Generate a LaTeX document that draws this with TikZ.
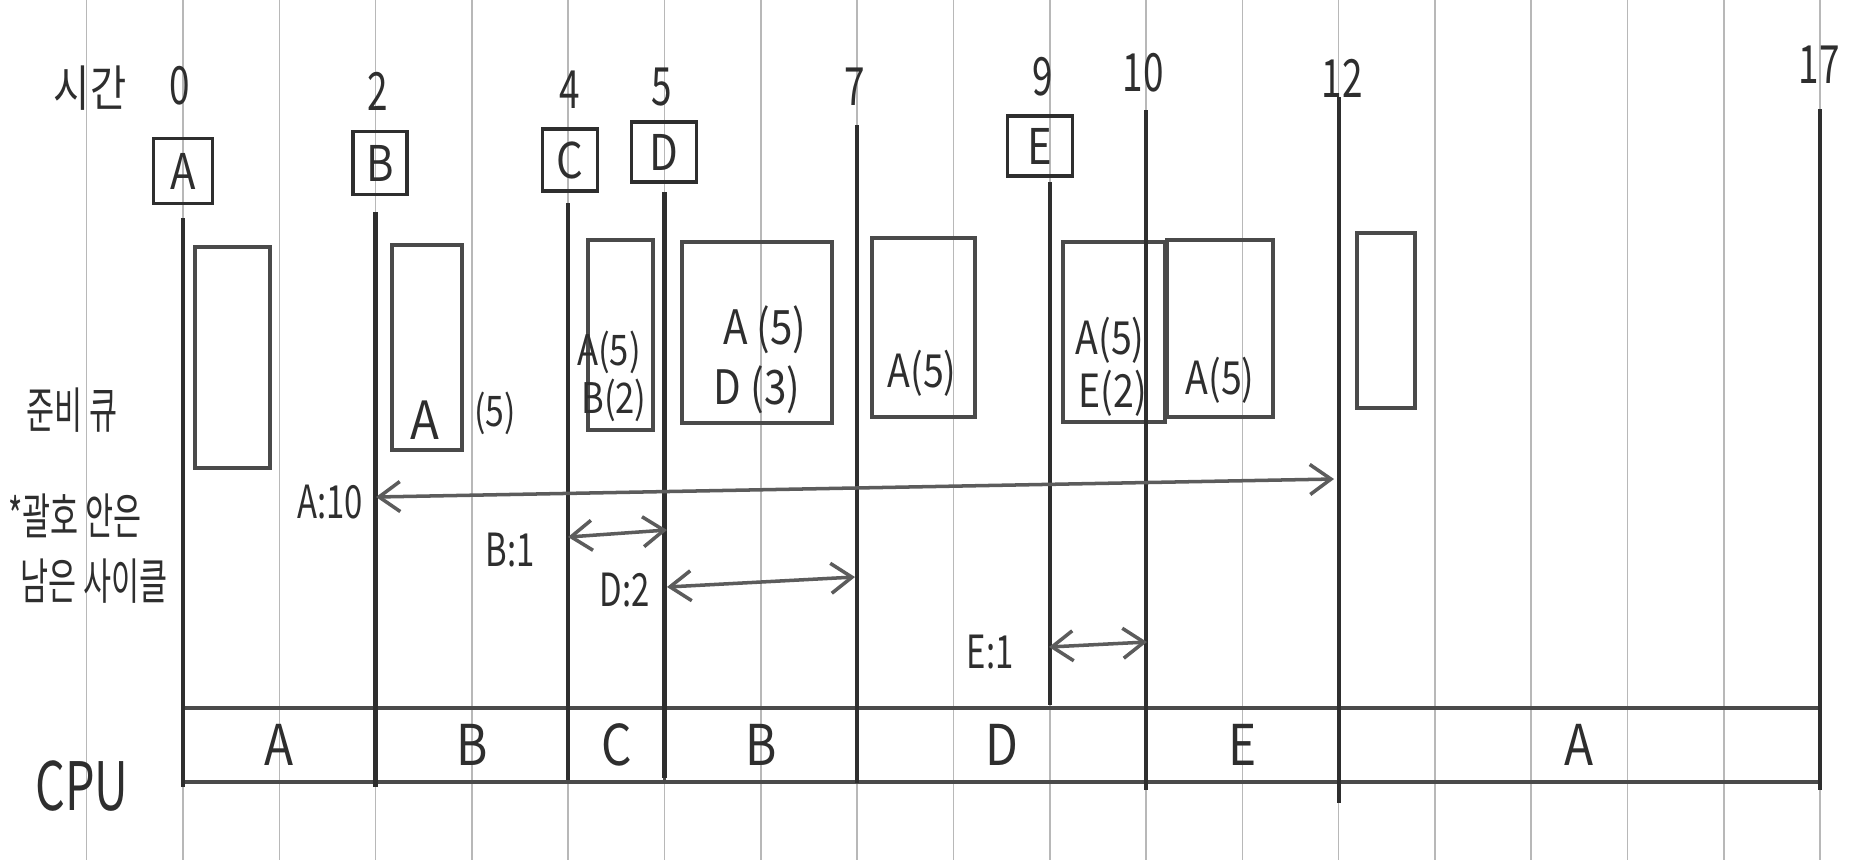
\documentclass[tikz,border=0pt]{standalone}
\usepackage{fontspec}
\setmainfont{Noto Sans CJK KR}
\usepackage{graphicx}
\usetikzlibrary{arrows.meta}
\definecolor{paperc}{HTML}{B8B8B8}
\definecolor{inkc}{HTML}{2E2E2E}
\definecolor{boxc}{HTML}{4A4A4A}
\definecolor{arrc}{HTML}{5C5C5C}
\newcommand{\nar}[2]{\scalebox{#1}[1]{#2}}
\newcommand{\fs}[1]{\fontsize{#1}{#1}\selectfont}
\tikzset{
  paperline/.style={draw=paperc, line width=0.9pt},
  tline/.style={draw=inkc, line width=2.4pt},
  arrbox/.style={draw=inkc, line width=2pt, inner sep=0pt, outer sep=0pt, text=inkc},
  qbox/.style={draw=boxc, line width=2pt, inner sep=0pt, outer sep=0pt},
  cpubox/.style={draw=boxc, line width=2.2pt, inner sep=0pt, outer sep=0pt, minimum height=1.48cm, text=inkc},
  lbl/.style={inner sep=0pt, text=inkc},
  dbl/.style={draw=arrc, line width=2pt, {Straight Barb[length=0.42cm,width=0.6cm,line width=2pt]}-{Straight Barb[length=0.42cm,width=0.6cm,line width=2pt]}}
}
\begin{document}
\begin{tikzpicture}[x=0.02cm,y=-0.02cm]
\path[fill=white] (0,0) rectangle (1851,860);
\useasboundingbox (0,0) rectangle (1851,860);
% paper lines
\foreach \k in {0,...,18} \draw[paperline] ({86.7+96.3*\k},0) -- ({86.7+96.3*\k},860);

% ready queue boxes
\node[qbox, minimum width=1.5cm, minimum height=4.42cm] (q1) at (232.5,357.5) {};
\node[qbox, minimum width=1.4cm, minimum height=4.1cm] (q2) at (427,347.5) {};
\node[qbox, minimum width=1.3cm, minimum height=3.8cm] (q3) at (620.5,335) {};
\node[qbox, minimum width=3.0cm, minimum height=3.62cm] (q4) at (757,332.5) {};
\node[qbox, minimum width=2.06cm, minimum height=3.58cm] (q5) at (923.5,327.5) {};
\node[qbox, minimum width=2.04cm, minimum height=3.6cm] (q6) at (1114,332) {};
\node[qbox, minimum width=2.12cm, minimum height=3.54cm] (q7) at (1220,328.5) {};
\node[qbox, minimum width=1.16cm, minimum height=3.5cm] (q8) at (1386,320.5) {};

% CPU bar
\node[cpubox, minimum width=3.852cm] (c1) at (279.3,745) {\fs{32}\nar{0.85}{A}};
\node[cpubox, minimum width=3.852cm] (c2) at (471.9,745) {\fs{32}\nar{0.85}{B}};
\node[cpubox, minimum width=1.926cm] (c3) at (616.35,745) {\fs{32}\nar{0.85}{C}};
\node[cpubox, minimum width=3.852cm] (c4) at (760.8,745) {\fs{32}\nar{0.85}{B}};
\node[cpubox, minimum width=5.778cm] (c5) at (1001.55,745) {\fs{32}\nar{0.85}{D}};
\node[cpubox, minimum width=3.852cm] (c6) at (1242.3,745) {\fs{32}\nar{0.85}{E}};
\node[cpubox, minimum width=9.63cm] (c7) at (1579.35,745) {\fs{32}\nar{0.85}{A}};

% time lines
\coordinate (l0a) at (183,218);   \coordinate (l0b) at (183,787);
\coordinate (l2a) at (375.6,212); \coordinate (l2b) at (375.6,787);
\coordinate (l4a) at (568.2,203); \coordinate (l4b) at (568.2,780);
\coordinate (l5a) at (664.5,192); \coordinate (l5b) at (664.5,778);
\coordinate (l7a) at (857.1,125); \coordinate (l7b) at (857.1,783);
\coordinate (l9a) at (1049.7,182);\coordinate (l9b) at (1049.7,705);
\coordinate (l10a) at (1146,110); \coordinate (l10b) at (1146,790);
\coordinate (l12a) at (1338.6,97);\coordinate (l12b) at (1338.6,803);
\coordinate (l17a) at (1820.1,109);\coordinate (l17b) at (1820.1,790);
\foreach \n in {0,2,4,5,7,9,10,12,17} \draw[tline] (l\n a) -- (l\n b);

% arrival boxes
\node[arrbox, minimum width=1.18cm, minimum height=1.3cm] (pA) at (183,171) {\fs{28}\nar{0.85}{A}};
\node[arrbox, minimum width=1.08cm, minimum height=1.26cm] (pB) at (380,163) {\fs{28}\nar{0.85}{B}};
\node[arrbox, minimum width=1.1cm, minimum height=1.25cm] (pC) at (570,160) {\fs{28}\nar{0.85}{C}};
\node[arrbox, minimum width=1.3cm, minimum height=1.2cm] (pD) at (664,152) {\fs{28}\nar{0.85}{D}};
\node[arrbox, minimum width=1.3cm, minimum height=1.2cm] (pE) at (1040,146) {\fs{28}\nar{0.85}{E}};

% time labels
\node[lbl] (tt) at (90,88) {\fs{28}\nar{0.8}{시간}};
\node[lbl] (n0) at (180,86) {\fs{30}\nar{0.7}{0}};
\node[lbl] (n2) at (378,91) {\fs{30}\nar{0.7}{2}};
\node[lbl] (n4) at (570,90) {\fs{30}\nar{0.7}{4}};
\node[lbl] (n5) at (662,87) {\fs{30}\nar{0.7}{5}};
\node[lbl] (n7) at (855,87) {\fs{30}\nar{0.7}{7}};
\node[lbl] (n9) at (1043,77) {\fs{30}\nar{0.7}{9}};
\node[lbl] (n10) at (1143,73) {\fs{30}\nar{0.7}{10}};
\node[lbl] (n12) at (1342,78) {\fs{30}\nar{0.7}{12}};
\node[lbl] (n17) at (1819,65) {\fs{30}\nar{0.7}{17}};

% queue contents
\node[lbl] (q2a) at (425,420) {\fs{30}\nar{0.9}{A}};
\node[lbl] (q2b) at (495,413) {\fs{24}\nar{0.8}{(5)}};
\node[lbl] (q3a) at (609,352) {\fs{24}\nar{0.82}{A(5)}};
\node[lbl] (q3b) at (614,400) {\fs{24}\nar{0.82}{B(2)}};
\node[lbl] (q4a) at (765,330) {\fs{27}\nar{0.85}{A (5)}};
\node[lbl] (q4b) at (757,390) {\fs{27}\nar{0.85}{D (3)}};
\node[lbl] (q5a) at (922,373) {\fs{26}\nar{0.82}{A(5)}};
\node[lbl] (q6a) at (1110,340) {\fs{26}\nar{0.82}{A(5)}};
\node[lbl] (q6b) at (1113,393) {\fs{26}\nar{0.82}{E(2)}};
\node[lbl] (q7a) at (1220,380) {\fs{26}\nar{0.82}{A(5)}};

% remaining cycle arrows
\coordinate (a10l) at (376,497);  \coordinate (a10r) at (1334,479);
\coordinate (b1l) at (568,537);   \coordinate (b1r) at (667,530);
\coordinate (d2l) at (667,587);   \coordinate (d2r) at (855,577);
\coordinate (e1l) at (1049,647);  \coordinate (e1r) at (1147,642);
\draw[dbl] (a10l) -- (a10r);
\draw[dbl] (b1l) -- (b1r);
\draw[dbl] (d2l) -- (d2r);
\draw[dbl] (e1l) -- (e1r);
\node[lbl] (la10) at (330,502) {\fs{26}\nar{0.72}{A:10}};
\node[lbl] (lb1) at (510,550) {\fs{26}\nar{0.72}{B:1}};
\node[lbl] (ld2) at (625,590) {\fs{26}\nar{0.72}{D:2}};
\node[lbl] (le1) at (990,652) {\fs{26}\nar{0.72}{E:1}};

% left labels
\node[lbl] (rq) at (72,410) {\fs{28}\nar{0.62}{준비 큐}};
\node[lbl] (nt1) at (75,516) {\fs{28}\nar{0.62}{*괄호 안은}};
\node[lbl] (nt2) at (94,581) {\fs{28}\nar{0.62}{남은 사이클}};
\node[lbl] (cpu) at (82,786) {\fs{38}\nar{0.7}{CPU}};
\end{tikzpicture}
\end{document}
